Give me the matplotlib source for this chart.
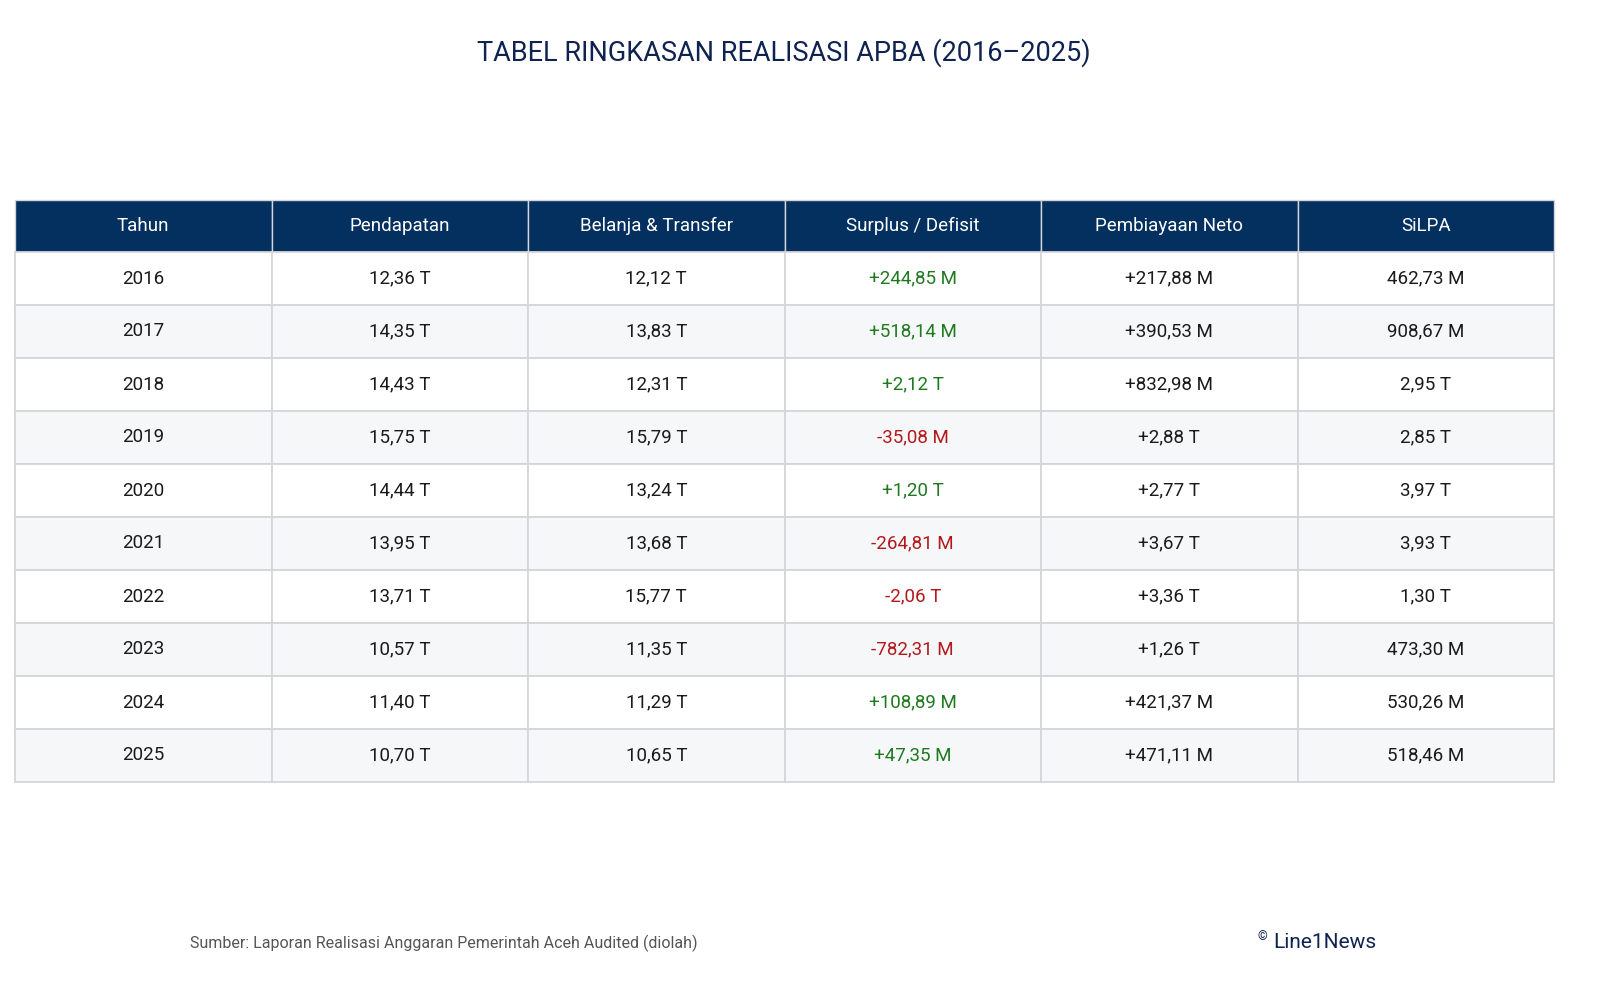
import matplotlib
matplotlib.use("Agg")
import matplotlib.pyplot as plt
from matplotlib.patches import Rectangle

plt.rcParams['font.family'] = ['Roboto', 'DejaVu Sans']

title = "TABEL RINGKASAN REALISASI APBA (2016–2025)"
columns = ["Tahun", "Pendapatan", "Belanja & Transfer", "Surplus / Defisit", "Pembiayaan Neto", "SiLPA"]
years = ["2016", "2017", "2018", "2019", "2020", "2021", "2022", "2023", "2024", "2025"]
pendapatan = ["12,36 T", "14,35 T", "14,43 T", "15,75 T", "14,44 T", "13,95 T", "13,71 T", "10,57 T", "11,40 T", "10,70 T"]
belanja = ["12,12 T", "13,83 T", "12,31 T", "15,79 T", "13,24 T", "13,68 T", "15,77 T", "11,35 T", "11,29 T", "10,65 T"]
surplus = ["+244,85 M", "+518,14 M", "+2,12 T", "-35,08 M", "+1,20 T", "-264,81 M", "-2,06 T", "-782,31 M", "+108,89 M", "+47,35 M"]
pembiayaan = ["+217,88 M", "+390,53 M", "+832,98 M", "+2,88 T", "+2,77 T", "+3,67 T", "+3,36 T", "+1,26 T", "+421,37 M", "+471,11 M"]
silpa = ["462,73 M", "908,67 M", "2,95 T", "2,85 T", "3,97 T", "3,93 T", "1,30 T", "473,30 M", "530,26 M", "518,46 M"]
source = "Sumber: Laporan Realisasi Anggaran Pemerintah Aceh Audited (diolah)"
brand_mark = "©"
brand = "Line1News"

W, H = 1600, 1001
fig = plt.figure(figsize=(W / 100, H / 100), dpi=100)
ax = fig.add_axes([0, 0, 1, 1])
ax.set_xlim(0, W)
ax.set_ylim(H, 0)
ax.axis("off")

navy = "#03305f"
grid = "#d4d6da"
alt = "#f6f7f9"
green = "#1f7a1f"
red = "#b3191c"
txt = "#1a1a1a"

left, right = 15, 1554
top = 200
head_h = 52
row_h = 53.0
ncol = len(columns)
cw = (right - left) / ncol

ax.text(W / 2 - 16, 53, title, ha="center", va="center", fontsize=19.5, color="#0f2250")

# header
for j, c in enumerate(columns):
    x0 = left + j * cw
    ax.add_patch(Rectangle((x0, top), cw, head_h, facecolor=navy, edgecolor=grid, lw=1.0))
    ax.text(x0 + cw / 2, top + head_h / 2, c, ha="center", va="center", fontsize=13.5, color="white")

rows = list(zip(years, pendapatan, belanja, surplus, pembiayaan, silpa))
for i, r in enumerate(rows):
    y0 = top + head_h + i * row_h
    bg = "white" if i % 2 == 0 else alt
    for j, val in enumerate(r):
        x0 = left + j * cw
        ax.add_patch(Rectangle((x0, y0), cw, row_h, facecolor=bg, edgecolor=grid, lw=1.3))
        col = txt
        if j == 3:
            col = green if val.startswith("+") else red
        ax.text(x0 + cw / 2, y0 + row_h / 2, val, ha="center", va="center", fontsize=13.5, color=col)

ax.text(190, 943, source, ha="left", va="center", fontsize=11.5, color="#555555")
ax.text(1258, 937, brand_mark, ha="left", va="center", fontsize=9, color="#0f2250")
ax.text(1273, 942, brand, ha="left", va="center", fontsize=15, color="#0f2250")

fig.savefig("out.png", dpi=100, facecolor="white")
